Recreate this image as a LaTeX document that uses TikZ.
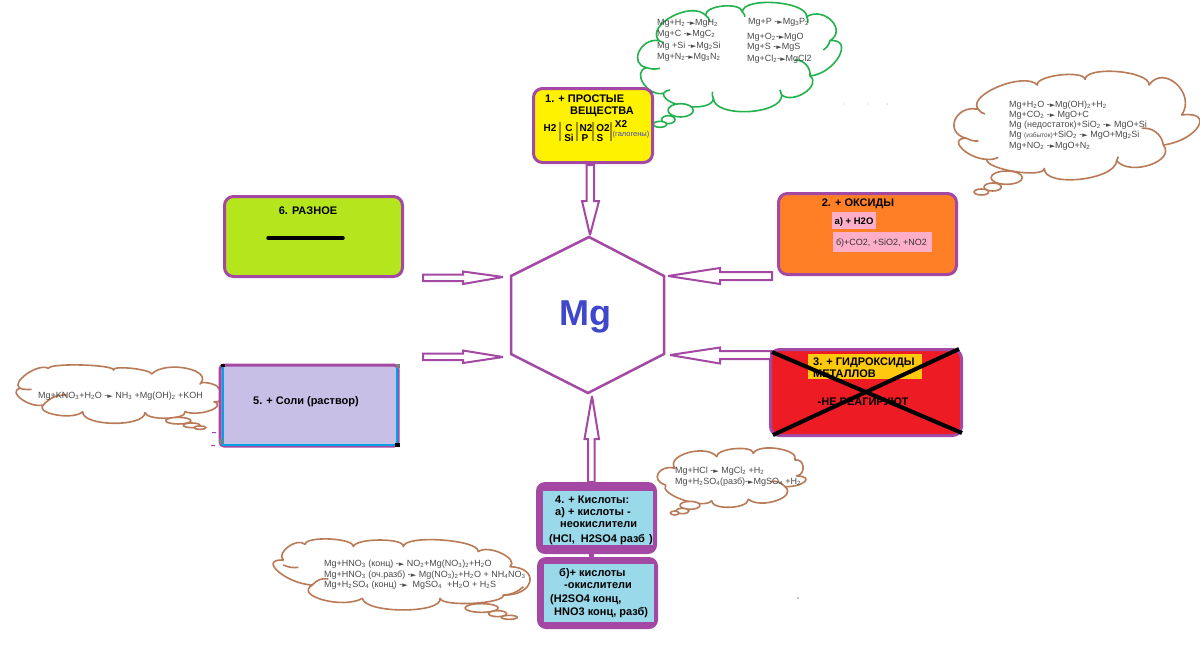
\documentclass[tikz,border=0pt]{standalone}
\usepackage{fontspec}
\setmainfont{Liberation Sans}
\newfontfamily\djv{DejaVu Sans}
\usetikzlibrary{calc}
\definecolor{pur}{HTML}{A349A4}
\definecolor{grn}{HTML}{22B14C}
\definecolor{brn}{HTML}{B97A57}
\definecolor{chem}{HTML}{4A4A4A}
\definecolor{lblue}{HTML}{99D9EA}
\definecolor{sky}{HTML}{00A2E8}
\newcommand{\sz}[1]{\fontsize{#1}{#1}\selectfont}
\newcommand{\ra}{{\djv\fontsize{7}{7}\selectfont ►}}
\newcommand{\dn}[1]{\textsubscript{#1}}
% start x, start y, list of apex-x/apex-y/end-x/end-y
\newcommand{\cloudshape}[3]{%
  \draw[cloudline] (#1,#2)
   \foreach \px/\py/\bx/\by [remember=\bx as \ax (initially #1),remember=\by as \ay (initially #2)] in {#3}
   { .. controls ($1.333*(\px,\py)+0.333*(\ax,\ay)-0.667*(\bx,\by)$) and ($1.333*(\px,\py)+0.333*(\bx,\by)-0.667*(\ax,\ay)$) .. (\bx,\by) } -- cycle;}
\tikzset{
  box/.style={draw=pur,line width=3pt,rounded corners=9pt,inner sep=0pt},
  blockarrow/.style={draw=pur,line width=2pt,fill=white,line join=miter,miter limit=3},
  chemtext/.style={anchor=base west,inner sep=0pt,text=chem,font=\sz{9}},
  boldtext/.style={anchor=base west,inner sep=0pt,text=black,font=\sz{11}\bfseries},
  boldmid/.style={anchor=base,inner sep=0pt,text=black,font=\sz{11}\bfseries},
  cloudline/.style={line width=1.6pt,fill=white,line join=round},
  inner/.style={line width=1.6pt},
}
\begin{document}
\begin{tikzpicture}[x=1pt,y=-1pt]
\useasboundingbox (0,0) rectangle (1200,649);
\fill[white] (0,0) rectangle (1200,649);

% ---- clouds
% green
\begin{scope}[shift={(635,0)},x=.3333pt,y=-.3333pt,draw=grn]
\cloudshape{35}{203}{12/155/72/122, 110/50/212/46, 265/18/322/36, 420/8/515/50, 590/62/585/122, 612/170/525/228, 510/278/440/285, 340/335/235/295, 160/320/85/280, 25/250/35/203}
\draw[inner] (35,203) to[bend right=15] (75,205);
\draw[inner] (72,122) to[bend left=20] (85,128);
\draw[inner] (212,46) to[bend left=20] (225,65);
\draw[inner] (322,36) to[bend left=20] (330,50);
\draw[inner] (515,50) to[bend left=20] (518,70);
\draw[inner] (585,122) to[bend left=20] (565,150);
\draw[inner] (525,228) to[bend right=50] (480,180);
\draw[inner] (440,285) to[bend left=15] (435,270);
\draw[inner] (235,295) to[bend left=15] (232,275);
\draw[inner] (85,280) to[bend left=20] (105,270);
\draw[cloudline] (137,331) ellipse [x radius=38,y radius=20];
\draw[cloudline] (100,359) ellipse [x radius=20,y radius=12];
\draw[cloudline] (75,373) ellipse [x radius=20,y radius=9];
\end{scope}
% brown top right
\begin{scope}[shift={(950,70)},x=.3333pt,y=-.3333pt,draw=brn]
\cloudshape{85}{118}{145/50/262/45, 330/15/405/28, 505/5/597/45, 680/42/695/135, 745/170/640/225, 600/285/500/272, 390/328/283/295, 195/305/110/268, 35/235/50/205, 15/150/85/118}
\draw[inner] (85,118) to[bend right=20] (105,132);
\draw[inner] (640,225) to[bend right=45] (575,175);
\draw[inner] (50,205) to[bend right=15] (85,213);
\draw[inner] (110,268) to[bend right=15] (145,262);
\draw[inner] (500,272) to[bend left=15] (505,260);
\draw[cloudline] (170,323) ellipse [x radius=47,y radius=20];
\draw[cloudline] (128,351) ellipse [x radius=26,y radius=12];
\draw[cloudline] (94,366) ellipse [x radius=22,y radius=9];
\end{scope}
% brown small
\begin{scope}[shift={(520,440)},x=.3333pt,y=-.3333pt,draw=brn]
\cloudshape{465}{85}{505/38/590/50, 645/26/700/40, 775/26/825/60, 850/80/830/108, 855/125/795/140, 770/182/685/178, 630/202/575/182, 490/180/437/135, 415/100/465/85}
\draw[inner] (795,140) to[bend right=30] (750,125);
\draw[cloudline] (510,196) ellipse [x radius=30,y radius=12];
\draw[cloudline] (487,213) ellipse [x radius=20,y radius=8];
\draw[cloudline] (464,219) ellipse [x radius=13,y radius=6];
\end{scope}
% brown bottom left
\begin{scope}[shift={(275,535)},x=.3333pt,y=-.3333pt,draw=brn]
\cloudshape{25}{75}{40/35/90/28, 165/12/235/35, 315/15/385/35, 500/15/610/50, 680/55/705/95, 765/140/685/180, 595/205/495/190, 385/225/262/190, 145/195/112/150, 10/110/25/75}
\draw[inner] (112,150) to[bend left=30] (160,132);
\draw[inner] (685,180) to[bend right=20] (745,155);
\draw[inner] (25,90) to[bend right=15] (70,97);
\draw[cloudline] (620,219) ellipse [x radius=50,y radius=13];
\draw[cloudline] (668,236) ellipse [x radius=27,y radius=9];
\draw[cloudline] (703,247) ellipse [x radius=24,y radius=6];
\end{scope}
% brown left
\begin{scope}[shift={(10,360)},x=.3333pt,y=-.3333pt,draw=brn]
\cloudshape{30}{85}{50/42/115/25, 215/15/310/30, 365/25/425/42, 530/25/570/72, 600/70/625/85, 640/110/612/125, 600/152/525/155, 470/175/405/158, 310/190/218/155, 140/165/100/135, 35/118/30/85}
\draw[inner] (100,135) to[bend left=25] (170,105);
\draw[inner] (30,85) to[bend right=10] (65,88);
\draw[cloudline] (505,182) ellipse [x radius=38,y radius=10];
\draw[cloudline] (545,196) ellipse [x radius=25,y radius=7];
\draw[cloudline] (570,203) ellipse [x radius=18,y radius=5];
\end{scope}

% ---- hexagon
\draw[pur,line width=2.5pt,line join=miter] (589,237) coordinate (hT) -- (664,276) coordinate (hUR) -- (664,354) coordinate (hLR) -- (588,393) coordinate (hB) -- (511,354) coordinate (hLL) -- (511,276) coordinate (hUL) -- cycle;
\node[inner sep=0pt,text={rgb,255:red,63;green,72;blue,204},font=\sz{36}\bfseries] (mg) at (585,317) {Mg};

% ---- boxes
\node[box,fill=yellow,minimum width=119pt,minimum height=74pt] (b1) at (593,125.5) {};
\node[box,fill={rgb,255:red,255;green,127;blue,39},minimum width=178pt,minimum height=81pt] (b2) at (867.5,234) {};
\node[box,fill={rgb,255:red,237;green,28;blue,36},minimum width=191pt,minimum height=86pt] (b3) at (866,392.5) {};
\node[box,fill={rgb,255:red,200;green,191;blue,231},rounded corners=4pt,minimum width=178pt,minimum height=81pt] (b5) at (309,405.5) {};
\node[box,fill={rgb,255:red,181;green,230;blue,29},minimum width=178pt,minimum height=80pt] (b6) at (313.5,236.5) {};
\node[fill=pur,rounded corners=9pt,inner sep=0pt,minimum width=121pt,minimum height=72pt] (b4a) at (596.5,518) {};
\node[fill=lblue,inner sep=0pt,minimum width=110pt,minimum height=54pt] (b4ai) at (598,518) {};
\node[fill=pur,rounded corners=9pt,inner sep=0pt,minimum width=121pt,minimum height=72pt] (b4b) at (597.5,593) {};
\node[fill=lblue,inner sep=0pt,minimum width=110pt,minimum height=58pt] (b4bi) at (599,593) {};
\fill[pur] (589,553) rectangle (594,558);

% ---- block arrows
\draw[blockarrow] (586.5,165) -- (586.5,201) -- (582,201) -- (590,235) -- (599,201) -- (594,201) -- (594,165) -- cycle;
\draw[blockarrow] (423,274.5) -- (463,274.5) -- (463,271.5) -- (503,277) -- (463,284) -- (463,281) -- (423,281) -- cycle;
\draw[blockarrow] (423,353.5) -- (463,353.5) -- (463,350.5) -- (503,357) -- (463,363) -- (463,360) -- (423,360) -- cycle;
\draw[blockarrow] (772,272) -- (720,272) -- (720,268) -- (668,276) -- (720,284) -- (720,280) -- (772,280) -- cycle;
\draw[blockarrow] (771,351) -- (720,351) -- (720,347.5) -- (670,355) -- (720,363.5) -- (720,359) -- (771,359) -- cycle;
\draw[blockarrow] (588,482) -- (588,439) -- (584.5,439) -- (592,396) -- (599,439) -- (594.5,439) -- (594.5,482) -- cycle;

% ---- box 1 text
\node[boldtext] (t1a) at (545,102) {1. + ПРОСТЫЕ};
\node[boldtext] (t1b) at (570,114) {ВЕЩЕСТВА};
\node[boldmid,font=\sz{10}\bfseries] (t1c) at (550,131) {H2};
\node[boldmid,font=\sz{10}\bfseries] (t1d) at (569,131) {C};
\node[boldmid,font=\sz{10}\bfseries] (t1e) at (569,141) {Si};
\node[boldmid,font=\sz{10}\bfseries] (t1f) at (586,131) {N2};
\node[boldmid,font=\sz{10}\bfseries] (t1g) at (585,141) {P};
\node[boldmid,font=\sz{10}\bfseries] (t1h) at (603,131) {O2};
\node[boldmid,font=\sz{10}\bfseries] (t1i) at (600,141) {S};
\node[boldmid,font=\sz{10}\bfseries] (t1j) at (621,127) {X2};
\node[anchor=base,inner sep=0pt,text={rgb,255:red,63;green,72;blue,204},font=\sz{7.5}] (t1k) at (631,136) {(галогены)};
\foreach \bx in {560,577,593,611} \draw[olive!90!yellow,line width=1.2pt] (\bx,122) -- (\bx,141);

% ---- box 2 text
\node[boldmid] (t2a) at (858,206) {2. + ОКСИДЫ};
\node[fill={rgb,255:red,255;green,174;blue,201},inner sep=0pt,minimum width=44pt,minimum height=17pt] (p2a) at (854,220.5) {};
\node[fill={rgb,255:red,255;green,174;blue,201},inner sep=0pt,minimum width=99pt,minimum height=20pt] (p2b) at (882.5,242) {};
\node[boldmid,font=\sz{9.5}\bfseries] (t2b) at (854,224) {а) + H2O};
\node[anchor=base,inner sep=0pt,text=black!80,font=\sz{9}] (t2c) at (881.5,245.5) {б)+CO2, +SiO2, +NO2};

% ---- box 3
\node[fill={rgb,255:red,255;green,201;blue,14},inner sep=0pt,minimum width=114pt,minimum height=25pt] (y3) at (865,366.5) {};
\node[boldtext] (t3a) at (813,365) {3. + ГИДРОКСИДЫ};
\node[boldtext] (t3b) at (813,377) {МЕТАЛЛОВ};
\node[boldmid] (t3c) at (863,405) {-НЕ РЕАГИРУЮТ};
\draw[black,line width=4pt] (772,352) -- (962,433);
\draw[black,line width=4pt] (773,435) -- (959,349);

% ---- box 5
\draw[sky,line width=2pt] (222.5,367) -- (222.5,445) -- (396.5,445) -- (396.5,367);
\node[boldmid] (t5) at (306,404) {5. + Соли (раствор)};
\fill[black] (221,364) rectangle (225,367);
\fill[gray] (396,364) rectangle (400,368);
\fill[gray] (219,439) rectangle (223,444);
\fill[black] (395,443) rectangle (400,447);

% ---- box 6
\node[boldmid] (t6) at (308,214) {6. РАЗНОЕ};
\draw[black,line width=3.5pt,line cap=round] (268,238) -- (343,238);

% ---- box 4
\node[boldtext] (t4a) at (555,503) {4. + Кислоты:};
\node[boldtext] (t4b) at (555,515) {а) + кислоты -};
\node[boldtext] (t4c) at (560,527) {неокислители};
\node[boldtext] (t4d) at (549,542) {(HCl,\hspace{3pt} H2SO4 разб\hspace{1pt} )};
\node[boldtext] (t4e) at (559,576) {б)+ кислоты};
\node[boldtext] (t4f) at (564,588) {-окислители};
\node[boldtext] (t4g) at (550,602) {(H2SO4 конц,};
\node[boldtext] (t4h) at (554,615) {HNO3 конц, разб)};

% ---- chem text
\node[chemtext] (c1) at (657,25) {Mg+H\dn{2}\,-\ra MgH\dn{2}};
\node[chemtext] (c2) at (657,36) {Mg+C -\ra MgC\dn{2}};
\node[chemtext] (c3) at (657,48) {Mg +Si -\ra Mg\dn{2}Si};
\node[chemtext] (c4) at (657,59) {Mg+N\dn{2}-\ra Mg\dn{3}N\dn{2}};
\node[chemtext] (c5) at (748,24) {Mg+P -\ra Mg\dn{3}P\dn{2}};
\node[chemtext] (c6) at (747,39) {Mg+O\dn{2}-\ra MgO};
\node[chemtext] (c7) at (747,49) {Mg+S -\ra MgS};
\node[chemtext] (c8) at (747,61) {Mg+Cl\dn{2}-\ra MgCl2};

\node[chemtext] (d1) at (1009,107) {Mg+H\dn{2}O -\ra Mg(OH)\dn{2}+H\dn{2}};
\node[chemtext] (d2) at (1009,117) {Mg+CO\dn{2} -\ra\ MgO+C};
\node[chemtext] (d3) at (1009,127) {Mg (недостаток)+SiO\dn{2} -\ra\ MgO+Si};
\node[chemtext] (d4) at (1009,137) {Mg {\sz{6.5}(избыток)}+SiO\dn{2} -\ra\ MgO+Mg\dn{2}Si};
\node[chemtext] (d5) at (1009,148) {Mg+NO\dn{2} -\ra MgO+N\dn{2}};

\node[chemtext] (e1) at (38,398) {Mg+KNO\dn{3}+H\dn{2}O -\ra\ NH\dn{3} +Mg(OH)\dn{2} +KOH};
\node[chemtext] (f1) at (675,473) {Mg+HCl -\ra\ MgCl\dn{2} +H\dn{2}};
\node[chemtext] (f2) at (675,484) {Mg+H\dn{2}SO\dn{4}(разб)-\ra MgSO\dn{4} +H\dn{2}};
\node[chemtext] (g1) at (324,566) {Mg+HNO\dn{3} (конц) -\ra\ NO\dn{2}+Mg(NO\dn{3})\dn{2}+H\dn{2}O};
\node[chemtext] (g2) at (324,577) {Mg+HNO\dn{3} (оч.разб) -\ra\ Mg(NO\dn{3})\dn{2}+H\dn{2}O + NH\dn{4}NO\dn{3}};
\node[chemtext] (g3) at (324,587) {Mg+H\dn{2}SO\dn{4} (конц) -\ra\ \ MgSO\dn{4} \ +H\dn{2}O + H\dn{2}S};

% ---- specks
\fill[gray] (844,104) circle (.5) (868,104) circle (.5) (887,104) circle (.5);
\fill[black] (798,598) circle (.7);
\fill[pur] (212,432) rectangle (216,433) (211,445) rectangle (215,446);
\end{tikzpicture}
\end{document}
